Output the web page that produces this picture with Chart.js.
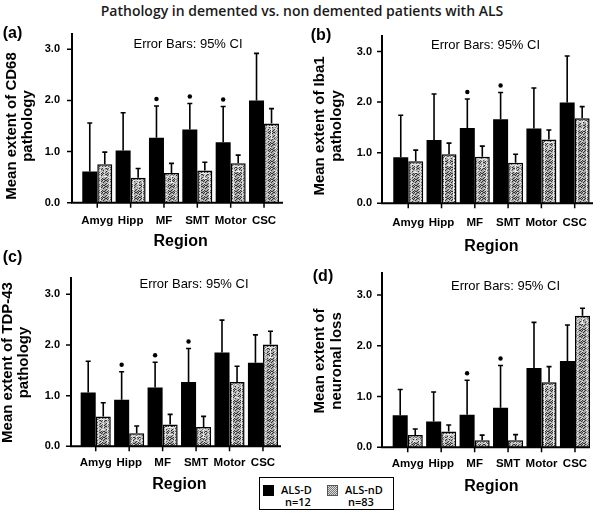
<!DOCTYPE html>
<html><head><meta charset="utf-8">
<script src="https://cdn.jsdelivr.net/npm/chart.js@4.4.1/dist/chart.umd.min.js"></script>
<style>
html,body{margin:0;padding:0;background:#fff;}
#wrap{position:relative;width:600px;height:520px;overflow:hidden;background:#fff;}
#wrap canvas{position:absolute;left:0;top:0;}
#title{position:absolute;left:2px;top:1px;width:600px;text-align:center;font:600 14px "Open Sans";color:#1a1a1a;white-space:nowrap;}
#legend{position:absolute;left:259px;top:477px;width:133px;height:31px;border:1.5px solid #000;background:#fff;font:600 11px "Open Sans";color:#000;}
.sw{position:absolute;width:11px;height:11px;}
.lt{position:absolute;line-height:12px;white-space:nowrap;}
</style>
</head><body>
<div id="wrap">
<div id="title">Pathology in demented vs. non demented patients with ALS</div>
<canvas id="ca" width="600" height="520"></canvas>
<canvas id="cb" width="600" height="520"></canvas>
<canvas id="cc" width="600" height="520"></canvas>
<canvas id="cd" width="600" height="520"></canvas>
<div id="legend">
  <div class="sw" style="left:3px;top:7px;background:#000;"></div>
  <div class="lt" style="left:21px;top:6px;">ALS-D</div>
  <div class="lt" style="left:25px;top:18px;">n=12</div>
  <div class="sw" style="left:67px;top:7px;border:1px solid #555;width:9px;height:9px;background:repeating-conic-gradient(#777 0 25%,#ddd 0 50%) 0 0/2px 2px;"></div>
  <div class="lt" style="left:85px;top:6px;">ALS-nD</div>
  <div class="lt" style="left:88px;top:18px;">n=83</div>
</div>
</div>
<script>
// ---- data ----
const regions = ['Amyg', 'Hipp', 'MF', 'SMT', 'Motor', 'CSC'];
const yTickValues = [0, 1, 2, 3];
const seriesNames = ['ALS-D', 'ALS-nD'];

// (a) CD68
const cd68_D = [0.61, 1.02, 1.27, 1.43, 1.18, 2.00];
const cd68_D_ciUpper = [1.56, 1.76, 1.89, 1.94, 1.88, 2.92];
const cd68_nD = [0.75, 0.49, 0.58, 0.63, 0.77, 1.55];
const cd68_nD_ciUpper = [0.99, 0.67, 0.77, 0.79, 0.93, 1.84];
const cd68_sig = [0, 0, 1, 1, 1, 0];

// (b) Iba1
const iba1_D = [0.91, 1.25, 1.49, 1.66, 1.48, 1.99];
const iba1_D_ciUpper = [1.74, 2.16, 2.06, 2.19, 2.28, 2.91];
const iba1_nD = [0.83, 0.97, 0.92, 0.80, 1.26, 1.68];
const iba1_nD_ciUpper = [1.05, 1.19, 1.13, 0.97, 1.45, 1.91];
const iba1_sig = [0, 0, 1, 1, 0, 0];

// (c) TDP-43
const tdp_D = [1.06, 0.92, 1.16, 1.27, 1.85, 1.65];
const tdp_D_ciUpper = [1.68, 1.47, 1.66, 1.93, 2.49, 2.20];
const tdp_nD = [0.59, 0.26, 0.43, 0.38, 1.27, 2.01];
const tdp_nD_ciUpper = [0.86, 0.40, 0.63, 0.59, 1.58, 2.27];
const tdp_sig = [0, 1, 1, 1, 0, 0];

// (d) neuronal loss
const nl_D = [0.63, 0.51, 0.64, 0.78, 1.56, 1.70];
const nl_D_ciUpper = [1.14, 1.09, 1.32, 1.61, 2.46, 2.41];
const nl_nD = [0.24, 0.31, 0.14, 0.14, 1.28, 2.59];
const nl_nD_ciUpper = [0.36, 0.44, 0.24, 0.25, 1.59, 2.74];
const nl_sig = [0, 0, 1, 1, 0, 0];

// ---- dotted fill for ALS-nD ----
function makePattern() {
  const c = document.createElement('canvas'); c.width = 6; c.height = 6;
  const x = c.getContext('2d');
  x.fillStyle = '#a8a8a8'; x.fillRect(0, 0, 6, 6);
  x.fillStyle = '#333';
  [[0,0],[3,0],[2,1],[5,1],[1,2],[4,3],[0,4],[3,4],[2,5],[5,5],[4,0],[1,5]].forEach(p => x.fillRect(p[0], p[1], 1, 1));
  x.fillStyle = '#e0e0e0';
  [[1,0],[4,2],[0,3],[5,4]].forEach(p => x.fillRect(p[0], p[1], 1, 1));
  return x.createPattern(c, 'repeat');
}
const dotPattern = makePattern();

const panels = [
  { id: 'ca', letter: '(a)', yTitle: ['Mean extent of CD68', 'pathology'],
    D: cd68_D, Dci: cd68_D_ciUpper, nD: cd68_nD, nDci: cd68_nD_ciUpper, sig: cd68_sig,
    g: { L: 80.6, R: 280.7, T: 49.3, B: 202.7, axX: 72, axTop: 33, axR: 283, labR: 60, xLabY: 221, regY: 242,
         ytX: 11.7, ytY: 126, ytGap: 16, letX: 12.5, letY: 34, ebX: 188, ebY: 44 } },
  { id: 'cb', letter: '(b)', yTitle: ['Mean extent of Iba1', 'pathology'],
    D: iba1_D, Dci: iba1_D_ciUpper, nD: iba1_nD, nDci: iba1_nD_ciUpper, sig: iba1_sig,
    g: { L: 391.6, R: 591.7, T: 51.5, B: 203.3, axX: 382, axTop: 35, axR: 593, labR: 372, xLabY: 222.7, regY: 246.7,
         ytX: 320, ytY: 126, ytGap: 17, letX: 321, letY: 36, ebX: 485.5, ebY: 45 } },
  { id: 'cc', letter: '(c)', yTitle: ['Mean extent of TDP-43', 'pathology'],
    D: tdp_D, Dci: tdp_D_ciUpper, nD: tdp_nD, nDci: tdp_nD_ciUpper, sig: tdp_sig,
    g: { L: 79, R: 279.7, T: 294.3, B: 446.3, axX: 71, axTop: 277, axR: 281, labR: 60, xLabY: 463.3, regY: 485,
         ytX: 8.3, ytY: 362.5, ytGap: 16, letX: 12.5, letY: 258, ebX: 194, ebY: 284 } },
  { id: 'cd', letter: '(d)', yTitle: ['Mean extent of', 'neuronal loss'],
    D: nl_D, Dci: nl_D_ciUpper, nD: nl_nD, nDci: nl_nD_ciUpper, sig: nl_sig,
    g: { L: 391, R: 591.7, T: 295, B: 447.3, axX: 382, axTop: 272, axR: 590, labR: 372, xLabY: 464.3, regY: 486.7,
         ytX: 320, ytY: 361, ytGap: 17, letX: 323, letY: 277, ebX: 505.5, ebY: 286 } }
];

const decor = {
  id: 'decor',
  afterDatasetsDraw(chart, args, opts) {
    const p = opts.panel, g = p.g, ctx = chart.ctx;
    const xs = chart.scales.x, ys = chart.scales.y;
    ctx.save();
    // inner white outline + lower whisker in ALS-nD bars
    const mN = chart.getDatasetMeta(1);
    mN.data.forEach((bar, j) => {
      const w = bar.width, x0 = bar.x - w / 2, top = bar.y, base = bar.base;
      ctx.strokeStyle = 'rgba(255,255,255,0.85)'; ctx.lineWidth = 1;
      ctx.beginPath();
      ctx.moveTo(x0 + 3, base - 2); ctx.lineTo(x0 + 3, top + 3); ctx.lineTo(x0 + w - 3, top + 3); ctx.lineTo(x0 + w - 3, base - 2);
      ctx.stroke();
      const low = Math.max(0, 2 * p.nD[j] - p.nDci[j]);
      const yl = Math.min(ys.getPixelForValue(low), base - 4);
      if (yl > top + 5) {
        ctx.beginPath(); ctx.moveTo(bar.x, top + 3); ctx.lineTo(bar.x, yl);
        ctx.moveTo(bar.x - 2.5, yl); ctx.lineTo(bar.x + 2.5, yl); ctx.stroke();
      }
    });
    // upper error whiskers
    ctx.strokeStyle = '#000'; ctx.lineWidth = 1.6;
    [[0, p.Dci], [1, p.nDci]].forEach(([di, ci]) => {
      chart.getDatasetMeta(di).data.forEach((bar, j) => {
        const yt = ys.getPixelForValue(ci[j]);
        ctx.beginPath(); ctx.moveTo(bar.x, bar.y); ctx.lineTo(bar.x, yt);
        ctx.moveTo(bar.x - 2.5, yt); ctx.lineTo(bar.x + 2.5, yt); ctx.stroke();
      });
    });
    // significance dots
    ctx.fillStyle = '#000';
    chart.getDatasetMeta(0).data.forEach((bar, j) => {
      if (p.sig[j]) {
        const yt = ys.getPixelForValue(p.Dci[j]);
        ctx.beginPath(); ctx.arc(bar.x, yt - 7, 2.2, 0, Math.PI * 2); ctx.fill();
      }
    });
    // axes
    ctx.lineWidth = 2; ctx.strokeStyle = '#000';
    ctx.beginPath();
    ctx.moveTo(g.axX, g.axTop); ctx.lineTo(g.axX, g.B + 1);
    ctx.moveTo(g.axX - 1, g.B); ctx.lineTo(g.axR, g.B);
    ctx.stroke();
    ctx.lineWidth = 1.5;
    ctx.beginPath();
    yTickValues.forEach(v => { const y = ys.getPixelForValue(v); ctx.moveTo(g.axX - 5, y); ctx.lineTo(g.axX, y); });
    regions.forEach((r, j) => { const x = xs.getPixelForValue(j); ctx.moveTo(x, g.B); ctx.lineTo(x, g.B + 5); });
    ctx.stroke();
    // texts
    ctx.fillStyle = '#000';
    ctx.textAlign = 'center'; ctx.textBaseline = 'middle';
    ctx.font = '13px "Liberation Sans", Arial, sans-serif';
    ctx.fillText('Error Bars: 95% CI', g.ebX, g.ebY);
    ctx.font = 'bold 16px "Liberation Sans", Arial, sans-serif';
    ctx.fillText(p.letter, g.letX, g.letY);
    ctx.font = 'bold 15px "Liberation Sans", Arial, sans-serif';
    ctx.translate(g.ytX, g.ytY); ctx.rotate(-Math.PI / 2);
    p.yTitle.forEach((t, i) => ctx.fillText(t, 0, i * g.ytGap));
    ctx.restore();
  }
};

panels.forEach(p => {
  const g = p.g;
  const xH = g.regY + 9.6 - g.B;
  new Chart(document.getElementById(p.id), {
    type: 'bar',
    data: {
      labels: regions,
      datasets: [
        { label: seriesNames[0], data: p.D, backgroundColor: '#000', borderWidth: 0 },
        { label: seriesNames[1], data: p.nD, backgroundColor: dotPattern, borderColor: '#000', borderWidth: 1.5 }
      ]
    },
    options: {
      responsive: false, animation: false, devicePixelRatio: 1,
      layout: { padding: { left: 0, right: 600 - g.R, top: g.T, bottom: 520 - g.B - xH } },
      datasets: { bar: { categoryPercentage: 0.9, barPercentage: 1.0 } },
      plugins: { legend: { display: false }, tooltip: { enabled: false }, decor: { panel: p } },
      scales: {
        x: {
          grid: { display: false, drawTicks: false, tickLength: 0 }, border: { display: false },
          ticks: { color: '#000', font: { family: '"Liberation Sans", Arial, sans-serif', size: 11.5, weight: 'bold' },
                   padding: g.xLabY - g.B - 6.9, maxRotation: 0, autoSkip: false },
          title: { display: true, text: 'Region', color: '#000', padding: 0,
                   font: { family: '"Liberation Sans", Arial, sans-serif', size: 16, weight: 'bold', lineHeight: 1.2 } },
          afterFit: s => { s.height = xH; }
        },
        y: {
          min: 0, max: 3,
          grid: { display: false, drawTicks: false, tickLength: 0 }, border: { display: false },
          ticks: { stepSize: 1, color: '#000', padding: g.L - g.labR,
                   font: { family: '"Liberation Sans", Arial, sans-serif', size: 11, weight: 'bold' },
                   callback: v => Number(v).toFixed(1) },
          afterFit: s => { s.width = g.L; }
        }
      }
    },
    plugins: [decor]
  });
});
</script>
</body></html>
